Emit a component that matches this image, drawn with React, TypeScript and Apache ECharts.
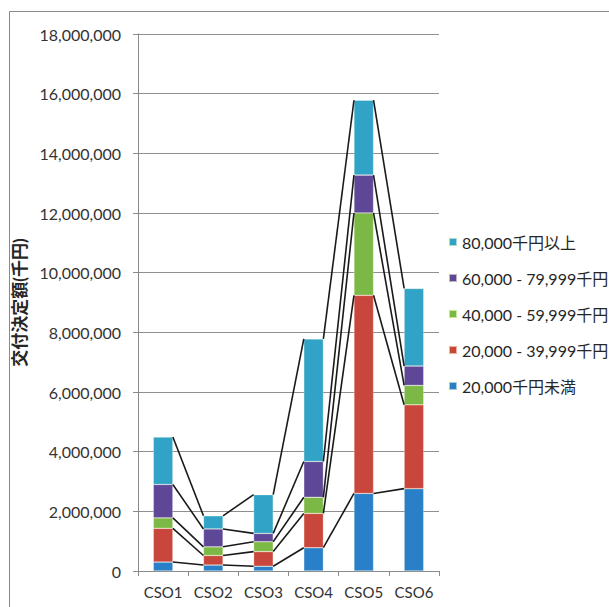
import React, { useEffect, useRef } from "react";
import * as echarts from "echarts";

const categories = ["CSO1", "CSO2", "CSO3", "CSO4", "CSO5", "CSO6"];
const seriesNames = [
  "20,000千円未満",
  "20,000 - 39,999千円",
  "40,000 - 59,999千円",
  "60,000 - 79,999千円",
  "80,000千円以上",
];
const under20k = [300000, 200000, 160000, 780000, 2600000, 2760000];
const from20kTo40k = [1130000, 320000, 490000, 1150000, 6640000, 2810000];
const from40kTo60k = [350000, 290000, 330000, 540000, 2760000, 650000];
const from60kTo80k = [1120000, 600000, 280000, 1200000, 1270000, 650000];
const over80k = [1590000, 440000, 1300000, 4110000, 2510000, 2600000];
const yTicks = [0, 2000000, 4000000, 6000000, 8000000, 10000000, 12000000, 14000000, 16000000, 18000000];
const colors = ["#2a80c8", "#c9463c", "#7cb846", "#5f4798", "#31a3c6"];

const seriesValues = [under20k, from20kTo40k, from40kTo60k, from60kTo80k, over80k];
const BAR_RATIO = 0.39;
const FONT = "Lato, 'Noto Sans CJK JP', sans-serif";

export default function App() {
  const ref = useRef<HTMLDivElement>(null);
  useEffect(() => {
    if (!ref.current) return;
    const chart = echarts.init(ref.current, null, { renderer: "svg" });

    const cum: number[][] = [];
    seriesValues.forEach((vals, k) => {
      cum.push(vals.map((v, i) => (k === 0 ? 0 : cum[k - 1][i]) + v));
    });
    const lineData: number[][] = [];
    cum.forEach((tops) => {
      for (let i = 0; i < categories.length - 1; i++) {
        lineData.push([i, tops[i], tops[i + 1]]);
      }
    });

    const barSeries = seriesNames.map((name, k) => ({
      name,
      type: "bar",
      stack: "total",
      barWidth: BAR_RATIO * 100 + "%",
      itemStyle: { color: colors[k], borderColor: "rgba(255,255,230,0.6)", borderWidth: 0.5 },
      data: seriesValues[k],
      z: 2,
    }));

    chart.setOption({
      animation: false,
      backgroundColor: "#ffffff",
      graphic: [
        {
          type: "rect",
          shape: { x: 9.5, y: 11.5, width: 700, height: 700 },
          style: { fill: "none", stroke: "#8a8a8a", lineWidth: 1 },
          silent: true,
        },
      ],
      grid: { left: 138, right: 170, top: 34, bottom: 36, containLabel: false },
      legend: {
        orient: "vertical",
        left: 443,
        top: 228,
        icon: "rect",
        itemWidth: 8,
        itemHeight: 8,
        itemGap: 18,
        data: seriesNames.slice().reverse(),
        textStyle: { fontFamily: FONT, fontSize: 16, color: "#262626", lineHeight: 18 },
      },
      xAxis: {
        type: "category",
        data: categories,
        axisLine: { lineStyle: { color: "#8a8a8a", width: 1 } },
        axisTick: { show: true, length: 5, alignWithLabel: false, lineStyle: { color: "#8a8a8a" } },
        axisLabel: { fontFamily: FONT, fontSize: 15, color: "#333", margin: 13, interval: 0 },
      },
      yAxis: {
        type: "value",
        min: yTicks[0],
        max: yTicks[yTicks.length - 1],
        interval: yTicks[1] - yTicks[0],
        name: "交付決定額(千円)",
        nameLocation: "middle",
        nameGap: 110,
        nameRotate: 90,
        nameTextStyle: { fontFamily: FONT, fontSize: 17, fontWeight: "bold", color: "#262626" },
        axisLine: { show: true, lineStyle: { color: "#8a8a8a", width: 1 } },
        axisTick: { show: true, length: 5, lineStyle: { color: "#8a8a8a" } },
        splitLine: { lineStyle: { color: "#8f8f8f", width: 1 } },
        axisLabel: {
          fontFamily: FONT,
          fontSize: 16,
          color: "#333",
          margin: 17,
          formatter: (v: number) => v.toLocaleString("en-US"),
        },
      },
      series: [
        ...barSeries,
        {
          type: "custom",
          name: "seriesLines",
          silent: true,
          z: 5,
          data: lineData,
          encode: { x: 0, y: [1, 2] },
          renderItem: (params: any, api: any) => {
            const i = api.value(0);
            const a = api.value(1);
            const b = api.value(2);
            const halfW = (api.size([1, 0])[0] * BAR_RATIO) / 2;
            const p1 = api.coord([i, a]);
            const p2 = api.coord([i + 1, b]);
            return {
              type: "line",
              shape: { x1: p1[0] + halfW, y1: p1[1], x2: p2[0] - halfW, y2: p2[1] },
              style: { stroke: "#1a1a1a", lineWidth: 1.6 },
            };
          },
        },
      ],
    });
    return () => chart.dispose();
  }, []);
  return (
    <div
      ref={ref}
      style={{ position: "fixed", left: 0, top: 0, width: 609, height: 607, background: "#fff" }}
    />
  );
}
